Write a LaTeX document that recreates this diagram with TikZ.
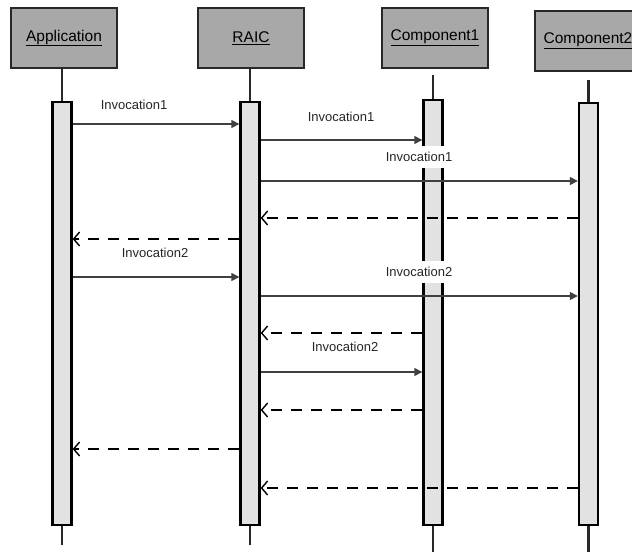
\documentclass[tikz,border=0pt]{standalone}
\usepackage{fontspec}
\setmainfont{Liberation Sans}
\usetikzlibrary{arrows.meta}
\definecolor{headfill}{RGB}{168,168,168}
\definecolor{barfill}{RGB}{226,226,226}
\definecolor{edge}{RGB}{40,40,40}
\tikzset{
  header/.style={draw=edge, line width=2.4pt, fill=headfill, minimum width=106pt, minimum height=60pt, inner sep=0pt, font=\fontsize{15.5}{17}\selectfont},
  actbar/.style={draw=black, line width=2.4pt, fill=barfill, minimum width=19pt, inner sep=0pt},
  stub/.style={draw=edge, line width=2.4pt},
  msglabel/.style={font=\fontsize{13}{15}\selectfont, text=black!85, fill=white, inner xsep=1pt, inner ysep=6pt},
  callmsg/.style={draw=black!75, line width=1.4pt, -{Triangle[length=8pt,width=8pt]}},
  retmsg/.style={draw=black, line width=1.8pt, dash pattern=on 11pt off 9pt, -{Straight Barb[length=6pt,width=14pt,line width=1.4pt]}}
}
\begin{document}
\begin{tikzpicture}[x=1pt,y=-1pt]
\clip (0,0) rectangle (632,552);
\fill[white] (0,0) rectangle (632,552);
% header boxes
\node[header] (hApp) at (64,38) {\underline{Application}};
\node[header] (hRaic) at (251,38) {\underline{RAIC}};
\node[header] (hC1) at (435,38) {\underline{Component1}};
\node[header] (hC2) at (588,41) {\underline{Component2}};
% activation bars
\node[actbar, minimum height=423pt] (aApp) at (62,313.5) {};
\node[actbar, minimum height=423pt] (aRaic) at (250,313.5) {};
\node[actbar, minimum height=425pt] (aC1) at (433,312.5) {};
\node[actbar, minimum height=422pt] (aC2) at (588.5,314) {};
% lifeline stubs
\coordinate (c1top) at (433,75);
\coordinate (c2top) at (588.5,80);
\coordinate (appbot) at (62,545);
\coordinate (raicbot) at (250,545);
\coordinate (c1bot) at (433,552);
\coordinate (c2bot) at (588.5,552);
\draw[stub] (hApp.south -| aApp.north) -- (aApp.north);
\draw[stub] (hRaic.south -| aRaic.north) -- (aRaic.north);
\draw[stub] (c1top) -- (aC1.north);
\draw[stub] (c2top) -- (aC2.north);
\draw[stub] (aApp.south) -- (appbot);
\draw[stub] (aRaic.south) -- (raicbot);
\draw[stub] (aC1.south) -- (c1bot);
\draw[stub] (aC2.south) -- (c2bot);
% message levels
\coordinate (y1) at (0,124);
\coordinate (y2) at (0,140);
\coordinate (y3) at (0,181);
\coordinate (y4) at (0,218);
\coordinate (y5) at (0,239);
\coordinate (y6) at (0,277);
\coordinate (y7) at (0,296);
\coordinate (y8) at (0,333);
\coordinate (y9) at (0,372);
\coordinate (y10) at (0,410);
\coordinate (y11) at (0,449);
\coordinate (y12) at (0,488);
% labels
\node[msglabel] (l1) at (134,105) {Invocation1};
\node[msglabel] (l2) at (341,117) {Invocation1};
\node[msglabel] (l3) at (419,157) {Invocation1};
\node[msglabel] (l6) at (155,253) {Invocation2};
\node[msglabel] (l7) at (419,272) {Invocation2};
\node[msglabel] (l9) at (345,347) {Invocation2};
% messages
\draw[callmsg] (aApp.east |- y1) -- (aRaic.west |- y1);
\draw[callmsg] (aRaic.east |- y2) -- (aC1.west |- y2);
\draw[callmsg] (aRaic.east |- y3) -- (aC2.west |- y3);
\draw[retmsg] (aC2.west |- y4) -- (aRaic.east |- y4);
\draw[retmsg] (aRaic.west |- y5) -- (aApp.east |- y5);
\draw[callmsg] (aApp.east |- y6) -- (aRaic.west |- y6);
\draw[callmsg] (aRaic.east |- y7) -- (aC2.west |- y7);
\draw[retmsg] (aC1.west |- y8) -- (aRaic.east |- y8);
\draw[callmsg] (aRaic.east |- y9) -- (aC1.west |- y9);
\draw[retmsg] (aC1.west |- y10) -- (aRaic.east |- y10);
\draw[retmsg] (aRaic.west |- y11) -- (aApp.east |- y11);
\draw[retmsg] (aC2.west |- y12) -- (aRaic.east |- y12);
\end{tikzpicture}
\end{document}
